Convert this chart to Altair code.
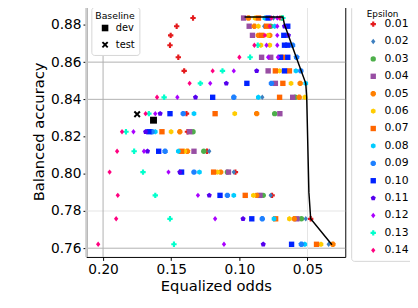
import altair as alt
import pandas as pd

# ---- legend levels / styling tables ----
eps_levels = ["0.01", "0.02", "0.03", "0.04", "0.05", "0.06", "0.07",
              "0.08", "0.09", "0.10", "0.11", "0.12", "0.13", "0.14"]
eps_colors = ["#e41a1c", "#3d7fbf", "#4daf4a", "#984ea3", "#ff7f00", "#ffcc00", "#ff6600",
              "#00ccff", "#1e80ff", "#0022ff", "#5500ee", "#aa00ff", "#00ffcc", "#ff0080"]
PLUS = "M-0.4,-1H0.4V-0.4H1V0.4H0.4V1H-0.4V0.4H-1V-0.4H-0.4Z"
HEX = "M0,-1L0.87,-0.5L0.87,0.5L0,1L-0.87,0.5L-0.87,-0.5Z"
PENT = "M0,-1L0.95,-0.31L0.59,0.81L-0.59,0.81L-0.95,-0.31Z"
OCT = "M-0.41,-1L0.41,-1L1,-0.41L1,0.41L0.41,1L-0.41,1L-1,0.41L-1,-0.41Z"
DIA = "M0,-1L0.8,0L0,1L-0.8,0Z"
eps_shapes = [PLUS, DIA, "circle", "square", OCT, HEX, "square",
              HEX, OCT, "square", PENT, DIA, PLUS, DIA]

x_ticks = [0.20, 0.15, 0.10, 0.05]
y_ticks = [0.76, 0.78, 0.80, 0.82, 0.84, 0.86, 0.88]

# ---- scatter values: (equalized odds, epsilon) per accuracy row ----
row_y = [0.8837, 0.8793, 0.8744, 0.8691, 0.8626, 0.8553, 0.8486, 0.8411,
         0.8323, 0.8226, 0.8121, 0.8009, 0.7884, 0.7758, 0.7621]

row_1 = [(0.1340, "0.01"), (0.0969, "0.04"), (0.0933, "0.05"), (0.0885, "0.06"), (0.0860, "0.07"),
         (0.0813, "0.08"), (0.0789, "0.10"), (0.0765, "0.14"), (0.0750, "0.02"), (0.0722, "0.12"),
         (0.0705, "0.14"), (0.0690, "0.03"), (0.0681, "0.13")]
row_2 = [(0.1460, "0.01"), (0.0928, "0.04"), (0.0890, "0.05"), (0.0861, "0.06"), (0.0818, "0.02"),
         (0.0801, "0.07"), (0.0777, "0.14"), (0.0770, "0.03"), (0.0741, "0.08"), (0.0722, "0.12"),
         (0.0669, "0.11"), (0.0645, "0.10")]
row_3 = [(0.1504, "0.01"), (0.0904, "0.04"), (0.0861, "0.05"), (0.0837, "0.07"), (0.0813, "0.14"),
         (0.0790, "0.06"), (0.0777, "0.05"), (0.0722, "0.12"), (0.0674, "0.10"), (0.0652, "0.09"),
         (0.0640, "0.11")]
row_4 = [(0.1509, "0.01"), (0.0890, "0.14"), (0.0865, "0.13"), (0.0842, "0.06"), (0.0801, "0.12"),
         (0.0777, "0.06"), (0.0722, "0.12"), (0.0669, "0.10"), (0.0645, "0.10"), (0.0610, "0.09")]
row_5 = [(0.1448, "0.01"), (0.1000, "0.14"), (0.0921, "0.13"), (0.0837, "0.04"), (0.0789, "0.12"),
         (0.0770, "0.04"), (0.0717, "0.12"), (0.0698, "0.10"), (0.0681, "0.07"), (0.0645, "0.10"),
         (0.0580, "0.09")]
row_6 = [(0.1405, "0.01"), (0.1196, "0.14"), (0.1124, "0.13"), (0.1041, "0.12"), (0.0873, "0.11"),
         (0.0789, "0.04"), (0.0736, "0.07"), (0.0705, "0.06"), (0.0669, "0.10"), (0.0633, "0.07"),
         (0.0585, "0.08"), (0.0549, "0.09")]
row_7 = [(0.1365, "0.14"), (0.1286, "0.13"), (0.1214, "0.12"), (0.1096, "0.11"), (0.0945, "0.10"),
         (0.0765, "0.09"), (0.0736, "0.04"), (0.0681, "0.07"), (0.0621, "0.06"), (0.0554, "0.05"),
         (0.0513, "0.08")]
row_8 = [(0.1604, "0.14"), (0.1552, "0.13"), (0.1455, "0.12"), (0.1322, "0.11"), (0.1196, "0.10"),
         (0.1041, "0.09"), (0.0861, "0.08"), (0.0832, "0.02"), (0.0705, "0.07"), (0.0609, "0.04"),
         (0.0590, "0.03"), (0.0561, "0.05"), (0.0520, "0.06")]
row_9 = [(0.1688, "0.14"), (0.1664, "0.13"), (0.1617, "0.12"), (0.1581, "0.11"), (0.1509, "0.10"),
         (0.1412, "0.09"), (0.1388, "0.01"), (0.1333, "0.08"), (0.1178, "0.07"), (0.1034, "0.06"),
         (0.0873, "0.05"), (0.0741, "0.03"), (0.0703, "0.04")]
row_10 = [(0.1861, "0.14"), (0.1832, "0.13"), (0.1777, "0.12"), (0.1688, "0.11"), (0.1664, "0.10"),
          (0.1640, "0.09"), (0.1617, "0.08"), (0.1568, "0.07"), (0.1501, "0.06"), (0.1437, "0.05"),
          (0.1381, "0.01"), (0.1365, "0.04"), (0.1340, "0.03")]
row_11 = [(0.1897, "0.14"), (0.1772, "0.13"), (0.1700, "0.12"), (0.1674, "0.11"), (0.1592, "0.10"),
          (0.1545, "0.09"), (0.1448, "0.08"), (0.1424, "0.07"), (0.1401, "0.06"), (0.1381, "0.05"),
          (0.1333, "0.04"), (0.1261, "0.03"), (0.1237, "0.01"), (0.1221, "0.02")]
row_12 = [(0.1952, "0.14"), (0.1707, "0.13"), (0.1520, "0.12"), (0.1437, "0.11"), (0.1424, "0.10"),
          (0.1333, "0.09"), (0.1293, "0.08"), (0.1189, "0.07"), (0.1160, "0.06"), (0.1137, "0.05"),
          (0.1088, "0.03"), (0.1080, "0.04"), (0.1041, "0.02"), (0.1029, "0.01")]
row_13 = [(0.1892, "0.14"), (0.1617, "0.13"), (0.1304, "0.12"), (0.1221, "0.11"), (0.1142, "0.10"),
          (0.1088, "0.09"), (0.1041, "0.08"), (0.0957, "0.07"), (0.0897, "0.06"), (0.0873, "0.05"),
          (0.0849, "0.04"), (0.0825, "0.03"), (0.0770, "0.02"), (0.0760, "0.01")]
row_14 = [(0.1904, "0.14"), (0.1509, "0.13"), (0.1178, "0.12"), (0.0973, "0.11"), (0.0909, "0.10"),
          (0.0832, "0.09"), (0.0746, "0.08"), (0.0734, "0.07"), (0.0633, "0.06"), (0.0597, "0.05"),
          (0.0578, "0.04"), (0.0545, "0.03"), (0.0513, "0.02"), (0.0477, "0.01")]
row_15 = [(0.2036, "0.14"), (0.1480, "0.13"), (0.1113, "0.12"), (0.0825, "0.11"), (0.0617, "0.10"),
          (0.0545, "0.09"), (0.0520, "0.08"), (0.0434, "0.07"), (0.0401, "0.06"), (0.0345, "0.02"),
          (0.0314, "0.05")]

rows = [row_1, row_2, row_3, row_4, row_5, row_6, row_7, row_8,
        row_9, row_10, row_11, row_12, row_13, row_14, row_15]

# ---- baseline points ----
baseline_names = ["dev", "test"]
baseline_x = [0.163, 0.175]
baseline_y = [0.8288, 0.8320]

# ---- Pareto front line ----
pareto_x = [0.0962, 0.0681, 0.0669, 0.0583, 0.0513, 0.0506, 0.0490, 0.0477, 0.0321]
pareto_y = [0.8842, 0.8842, 0.8802, 0.8626, 0.8486, 0.8411, 0.7900, 0.7758, 0.7619]

# ---- visible grid lines ----
grid_y_dark = [0.76, 0.84, 0.86]
grid_y_light = [0.78]
grid_x_dark = [0.20]
grid_x_light = [0.05]

# ---- build tables ----
recs = []
for yv, row in zip(row_y, rows):
    for xv, e in row:
        recs.append({"x": xv, "y": yv, "eps": e})
pts = pd.DataFrame(recs)
pts["k"] = pts["eps"].map({e: i for i, e in enumerate(eps_levels)})
pts = pts.sort_values("k", kind="stable")

base_df = pd.DataFrame({"x": baseline_x, "y": baseline_y, "Baseline": baseline_names})
line_df = pd.DataFrame({"x": pareto_x, "y": pareto_y, "i": list(range(len(pareto_x)))})

W, H = 264, 256
xscale = alt.Scale(domain=[0.0223, 0.2122], reverse=True, nice=False, zero=False)
yscale = alt.Scale(domain=[0.7553, 0.8902], nice=False, zero=False)

x_axis = alt.Axis(values=x_ticks, format=".2f", title="Equalized odds", grid=False, domain=False,
                  tickColor="black", tickSize=3.5, labelFontSize=14, titleFontSize=15,
                  labelPadding=2, titlePadding=3, labelColor="black", titleColor="black",
                  titleFontWeight="normal")
y_axis = alt.Axis(values=y_ticks, format=".2f", title="Balanced accuracy", grid=False, domain=False,
                  tickColor="black", tickSize=3.5, labelFontSize=14, titleFontSize=15,
                  labelPadding=2, titlePadding=4, labelColor="black", titleColor="black",
                  titleFontWeight="normal")

X = alt.X("x:Q", scale=xscale, axis=x_axis)
Y = alt.Y("y:Q", scale=yscale, axis=y_axis)

gy_dark = alt.Chart(pd.DataFrame({"y": grid_y_dark})).mark_rule(color="#b0b0b0", strokeWidth=1).encode(y=Y)
gy_light = alt.Chart(pd.DataFrame({"y": grid_y_light})).mark_rule(color="#e4e4e4", strokeWidth=1).encode(y=Y)
gx_dark = alt.Chart(pd.DataFrame({"x": grid_x_dark})).mark_rule(color="#b0b0b0", strokeWidth=1).encode(x=X)
gx_light = alt.Chart(pd.DataFrame({"x": grid_x_light})).mark_rule(color="#e4e4e4", strokeWidth=1).encode(x=X)

left_spine = alt.Chart(pd.DataFrame({"a": [0]})).mark_rule(color="#cccccc", strokeWidth=2.5).encode(
    x=alt.value(0), y=alt.value(0), y2=alt.value(H))

eps_legend = alt.Legend(title="Epsilon", orient="none", legendX=270, legendY=-1,
                        titleFontSize=9, titleFontWeight="normal", titleColor="black",
                        labelFontSize=11, labelColor="black", symbolSize=30, padding=5,
                        symbolOffset=12, labelOffset=6, rowPadding=5.75, strokeColor="#d5d5d5",
                        fillColor="white", cornerRadius=3, titleAnchor="middle", titlePadding=0,
                        symbolStrokeWidth=0, labelExpr="datum.label + '  '")

points = alt.Chart(pts).mark_point(filled=True, size=30, opacity=1).encode(
    x=X, y=Y,
    color=alt.Color("eps:N", scale=alt.Scale(domain=eps_levels, range=eps_colors), legend=eps_legend),
    shape=alt.Shape("eps:N", scale=alt.Scale(domain=eps_levels, range=eps_shapes), legend=eps_legend),
    order=alt.Order("k:Q"),
)

x_path = ("M-1,-0.6L-0.6,-1L0,-0.4L0.6,-1L1,-0.6L0.4,0L1,0.6L0.6,1L0,0.4L-0.6,1L-1,0.6L-0.4,0Z")
base_legend = alt.Legend(title="Baseline", orient="none", legendX=5, legendY=1,
                         titleFontSize=9.5, titleFontWeight="normal", titleColor="black",
                         labelFontSize=10, labelColor="black", symbolSize=45,
                         symbolFillColor="black", symbolStrokeColor="black", padding=4,
                         symbolOffset=5, labelOffset=6, rowPadding=3, strokeColor="#d5d5d5",
                         fillColor="white", cornerRadius=3, titlePadding=3)
baseline = alt.Chart(base_df).mark_point(filled=True, size=50, color="black", opacity=1).encode(
    x=X, y=Y,
    shape=alt.Shape("Baseline:N", scale=alt.Scale(domain=baseline_names, range=["square", x_path]),
                    legend=base_legend),
)

front = alt.Chart(line_df).mark_line(color="black", strokeWidth=1.5).encode(
    x=X, y=Y,
    order="i:Q",
)

chart = alt.layer(gy_dark, gy_light, gx_dark, gx_light, left_spine, points, baseline, front).resolve_scale(
    shape="independent", color="independent"
).resolve_legend(shape="independent", color="independent").properties(
    width=W, height=H,
    autosize=alt.AutoSizeParams(type="none"),
    padding={"left": 80, "top": -5, "right": 66, "bottom": 41},
).configure(font="DejaVu Sans").configure_view(stroke="black", strokeWidth=1)

chart.save("out.html", embed_options={"renderer": "svg", "actions": False})
